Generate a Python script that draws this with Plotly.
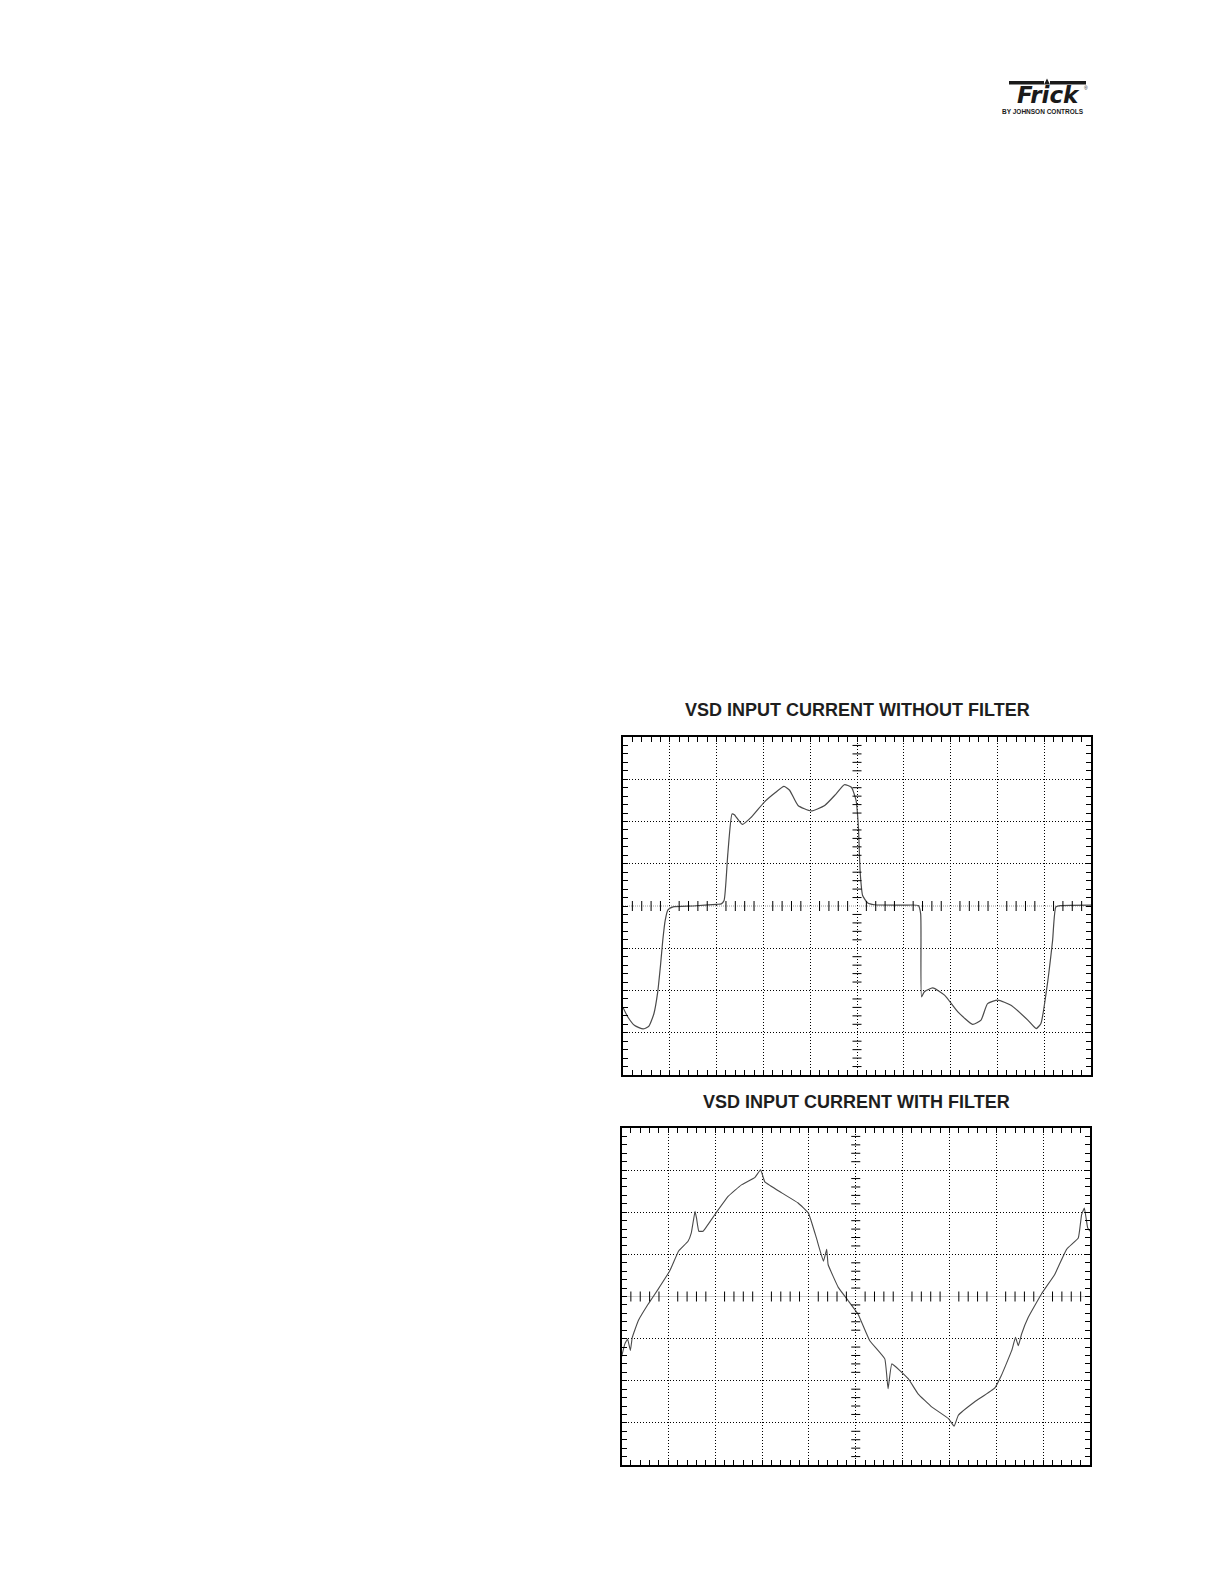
import plotly.graph_objects as go
import numpy as np

W, H = 1224, 1584

# ---- data (time in divisions, amplitude in divisions) ----
wave1_t = [0.0, 0.1, 0.25, 0.43, 0.55, 0.66, 0.74, 0.80, 0.85, 0.90,
           0.96, 1.07, 1.5, 2.0, 2.10, 2.16, 2.24, 2.33, 2.38, 2.55,
           2.74, 3.02, 3.25, 3.44, 3.56, 3.74, 4.02, 4.31, 4.55, 4.73,
           4.88, 4.98, 5.03, 5.07, 5.12, 5.23, 5.37, 6.0, 6.31, 6.36,
           6.38, 6.44, 6.62, 6.87, 7.15, 7.47, 7.65, 7.79, 8.01, 8.29,
           8.65, 8.83, 8.93, 9.06, 9.18, 9.25, 9.36, 10.0]
wave1_v = [-2.40, -2.62, -2.83, -2.91, -2.85, -2.55, -2.05, -1.42, -0.81, -0.35,
           -0.09, -0.02, 0.0, 0.04, 0.05, 0.13, 1.24, 2.18, 2.16, 1.93,
           2.10, 2.46, 2.68, 2.83, 2.74, 2.38, 2.25, 2.38, 2.65, 2.87,
           2.81, 2.50, 1.87, 0.76, 0.25, 0.07, 0.03, 0.02, 0.01, -0.18,
           -2.15, -2.03, -1.94, -2.11, -2.50, -2.80, -2.70, -2.31, -2.23, -2.35,
           -2.70, -2.90, -2.78, -1.91, -0.81, -0.02, 0.01, 0.02]

wave2_t = [0.0, 0.07, 0.13, 0.19, 0.23, 0.36, 0.57, 0.78, 1.03, 1.22,
           1.42, 1.49, 1.57, 1.60, 1.65, 1.74, 1.99, 2.28, 2.56, 2.85,
           2.97, 3.06, 3.42, 3.77, 3.99, 4.16, 4.31, 4.38, 4.41, 4.63,
           4.84, 5.05, 5.30, 5.62, 5.69, 5.77, 6.12, 6.33, 6.62, 6.98,
           7.10, 7.19, 7.54, 7.97, 8.11, 8.33, 8.41, 8.47, 8.54, 8.68,
           8.97, 9.25, 9.50, 9.75, 9.82, 9.88, 9.95, 10.0]
wave2_v = [-1.44, -1.13, -1.01, -1.28, -0.97, -0.57, -0.18, 0.17, 0.61, 1.08,
           1.31, 1.51, 2.02, 1.87, 1.55, 1.55, 1.94, 2.38, 2.65, 2.83,
           3.01, 2.72, 2.46, 2.22, 1.98, 1.39, 0.84, 1.12, 0.76, 0.21,
           -0.10, -0.42, -1.05, -1.48, -2.19, -1.60, -1.95, -2.31, -2.62, -2.90,
           -3.08, -2.82, -2.50, -2.17, -1.87, -1.28, -0.97, -1.17, -0.89, -0.50,
           0.07, 0.53, 1.12, 1.39, 1.94, 2.10, 1.63, 1.55]

titles = ["VSD INPUT CURRENT WITHOUT FILTER", "VSD INPUT CURRENT WITH FILTER"]

x_range = [0, 10]
y_range = [-4, 4]
y_grid = [-3, -2, -1, 1, 2, 3]


def px(x):
    return x / W


def py(y):
    return 1 - y / H


fig = go.Figure()

fig.add_trace(go.Scatter(x=wave1_t, y=wave1_v, mode="lines",
                         line=dict(color="#4a4a4a", width=1.2, shape="spline", smoothing=0.5),
                         xaxis="x", yaxis="y", hoverinfo="skip", showlegend=False))
fig.add_trace(go.Scatter(x=wave2_t, y=wave2_v, mode="lines",
                         line=dict(color="#4a4a4a", width=1.1, shape="spline", smoothing=0.3),
                         xaxis="x2", yaxis="y2", hoverinfo="skip", showlegend=False))

boxes = [
    dict(l=615, r=1083, t=729, b=1067),
    dict(l=613.5, r=1082, t=1120, b=1457),
]


def xax(b, anchor):
    return dict(domain=[px(b["l"]), px(b["r"])], range=x_range, anchor=anchor,
                showline=True, linecolor="black", linewidth=2, mirror="ticks",
                ticks="inside", ticklen=5, tickwidth=1, tickcolor="black",
                tickmode="linear", tick0=0, dtick=1, showticklabels=False,
                showgrid=True, gridcolor="black", gridwidth=1, griddash="1px,2px",
                zeroline=False, fixedrange=True,
                minor=dict(tickmode="linear", tick0=0, dtick=0.2, ticks="inside",
                           ticklen=5, tickwidth=1, tickcolor="black", showgrid=False))


def yax(b, anchor):
    return dict(domain=[py(b["b"]), py(b["t"])], range=y_range, anchor=anchor,
                showline=True, linecolor="black", linewidth=2, mirror="ticks",
                ticks="inside", ticklen=5, tickwidth=1, tickcolor="black",
                tickmode="array", tickvals=y_grid, showticklabels=False,
                showgrid=True, gridcolor="black", gridwidth=1, griddash="1px,2px",
                zeroline=False, fixedrange=True,
                minor=dict(tickmode="linear", tick0=0, dtick=0.2, ticks="inside",
                           ticklen=5, tickwidth=1, tickcolor="black", showgrid=False))


shapes = []
for i, (xr, yr) in enumerate([("x", "y"), ("x2", "y2")]):
    # centre horizontal line (lighter dotted)
    shapes.append(dict(type="line", xref=xr, yref=yr, x0=0, x1=10, y0=0, y1=0,
                       line=dict(color="#9a9a9a", width=1, dash="1px,1px"), layer="below"))
    # crossing ticks on centre horizontal line
    for k in range(1, 50):
        if k % 5 == 0:
            continue
        xv = k * 0.2
        shapes.append(dict(type="line", xref=xr, yref=yr, ysizemode="pixel", yanchor=0,
                           x0=xv, x1=xv, y0=-5, y1=5,
                           line=dict(color="black", width=1)))
    # crossing ticks on centre vertical line
    for k in range(-19, 20):
        if k % 5 == 0:
            continue
        yv = k * 0.2
        shapes.append(dict(type="line", xref=xr, yref=yr, xsizemode="pixel", xanchor=5,
                           x0=-4.5, x1=4.5, y0=yv, y1=yv,
                           line=dict(color="black", width=1)))

# logo bar (decorative)
shapes.append(dict(type="rect", xref="paper", yref="paper",
                   x0=px(1001), x1=px(1036), y0=py(76.5), y1=py(73),
                   fillcolor="#1a1a1a", line=dict(width=0)))
shapes.append(dict(type="rect", xref="paper", yref="paper",
                   x0=px(1042), x1=px(1078), y0=py(76.5), y1=py(73),
                   fillcolor="#1a1a1a", line=dict(width=0)))
shapes.append(dict(type="path", xref="paper", yref="paper",
                   path=f"M {px(1036)} {py(76.5)} L {px(1039)} {py(70.5)} L {px(1042)} {py(76.5)} Z",
                   fillcolor="#1a1a1a", line=dict(width=0)))

title_font = dict(family="Liberation Sans, Arial, Helvetica", size=18, color="#1e1e1e", weight="bold")

annotations = [
    dict(text=titles[0], x=px(849), y=py(702), xref="paper", yref="paper",
         showarrow=False, xanchor="center", yanchor="middle", font=title_font),
    dict(text=titles[1], x=px(848), y=py(1094), xref="paper", yref="paper",
         showarrow=False, xanchor="center", yanchor="middle", font=title_font),
    dict(text="<b><i>Frick</i></b>", x=px(1040), y=py(87), xref="paper", yref="paper",
         showarrow=False, xanchor="center", yanchor="middle",
         font=dict(family="DejaVu Sans, Liberation Sans", size=23, color="#1a1a1a")),
    dict(text="®", x=px(1074), y=py(80), xref="paper", yref="paper",
         showarrow=False, xanchor="left", yanchor="middle",
         font=dict(family="Liberation Sans, Arial", size=5, color="#1a1a1a")),
    dict(text="<b>BY JOHNSON CONTROLS</b>", x=px(1078), y=py(104), xref="paper", yref="paper",
         showarrow=False, xanchor="right", yanchor="middle",
         font=dict(family="Liberation Sans, Arial", size=6.5, color="#1a1a1a")),
]

fig.update_layout(
    width=W, height=H, margin=dict(l=0, r=0, t=0, b=0),
    paper_bgcolor="white", plot_bgcolor="white",
    xaxis=xax(boxes[0], "y"), yaxis=yax(boxes[0], "x"),
    xaxis2=xax(boxes[1], "y2"), yaxis2=yax(boxes[1], "x2"),
    shapes=shapes, annotations=annotations, showlegend=False,
)

fig.write_html("out.html")
